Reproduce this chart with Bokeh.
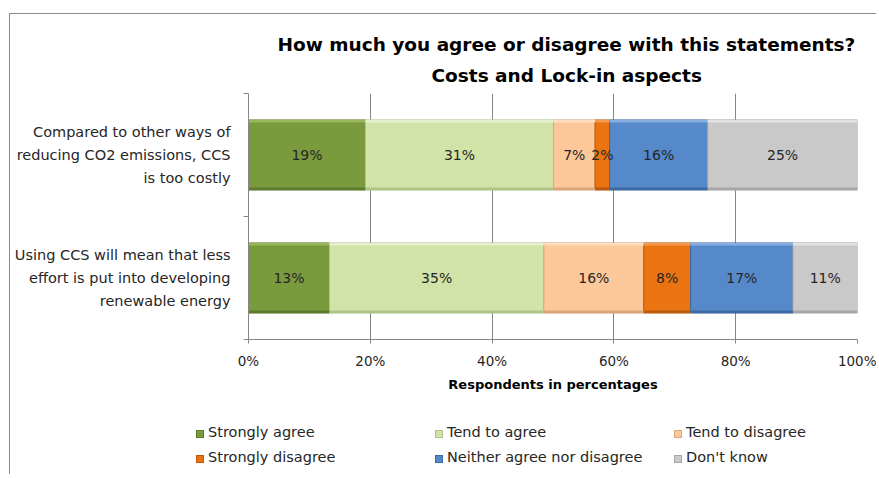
from bokeh.plotting import figure
from bokeh.layouts import column
from bokeh.models import (Range1d, LinearAxis, FixedTicker, PrintfTickFormatter, Div,
                          Title, ColumnDataSource)
from bokeh.core.properties import value
from bokeh.embed import file_html
from bokeh.resources import INLINE

# ---------------- data ----------------
statements = [
    "Compared to other ways of\nreducing CO2 emissions, CCS\nis too costly",
    "Using CCS will mean that less\neffort is put into developing\nrenewable energy",
]
responses = ["Strongly agree", "Tend to agree", "Tend to disagree",
             "Strongly disagree", "Neither agree nor disagree", "Don't know"]
strongly_agree = [19.2, 13.3]
tend_to_agree = [30.9, 35.2]
tend_to_disagree = [6.8, 16.4]
strongly_disagree = [2.4, 7.7]
neither_agree_nor_disagree = [16.1, 16.8]
dont_know = [24.6, 10.6]
x_ticks = [0, 20, 40, 60, 80, 100]

series = [strongly_agree, tend_to_agree, tend_to_disagree,
          strongly_disagree, neither_agree_nor_disagree, dont_know]
keys = ["s%d" % i for i in range(len(series))]
fill_colors = ["#7A9A3E", "#D2E3A7", "#FCC899", "#EB7412", "#5589CA", "#C9C9C9"]
edge_colors = ["#5E7A2C", "#AFC489", "#D9A67A", "#B8590C", "#3D6AA3", "#A6A6A6"]
light_colors = ["#98B65C", "#E6F0D0", "#FDDDBF", "#F39A4E", "#86AEE0", "#E2E2E2"]

FONT = "DejaVu Sans"
GRID = "#868686"
BAR_H = 0.57
EDGE_H = 0.02

n = len(statements)
ypos = [n - 0.5 - i for i in range(n)]          # band centres, first statement on top
data = {"y": ypos,
        "y_top": [y + BAR_H / 2 - EDGE_H / 2 for y in ypos],
        "y_bot": [y - BAR_H / 2 + EDGE_H / 2 for y in ypos]}
for k, s in zip(keys, series):
    data[k] = s
source = ColumnDataSource(data)

# ---------------- main chart ----------------
p = figure(width=866, height=380, output_backend="svg", toolbar_location=None,
           y_range=Range1d(0, n), x_range=Range1d(0, 100), y_axis_location=None,
           min_border_left=238, min_border_right=19, min_border_top=79,
           min_border_bottom=50)
p.outline_line_color = None
p.background_fill_color = "white"

p.hbar_stack(keys, y="y", height=BAR_H, source=source,
             fill_color=fill_colors, line_color=edge_colors, line_width=1)
# bevel: light top edge and darker bottom edge
p.hbar_stack(keys, y="y_top", height=EDGE_H, source=source,
             fill_color=light_colors, line_color=None)
p.hbar_stack(keys, y="y_bot", height=EDGE_H, source=source,
             fill_color=edge_colors, line_color=None)

# data labels
lx, ly, lt = [], [], []
for i, yc in enumerate(ypos):
    left = 0.0
    for s in series:
        v = s[i]
        lx.append(left + v / 2)
        ly.append(yc)
        lt.append("%.0f%%" % v)
        left += v
p.text(x=lx, y=ly, text=lt, text_align="center", text_baseline="middle",
       text_font=value(FONT), text_font_size="14px", text_color="#262626")

# x axis
p.xaxis.ticker = FixedTicker(ticks=x_ticks)
p.xaxis.formatter = PrintfTickFormatter(format="%d%%")
p.xaxis.major_tick_out = 4
p.xaxis.major_tick_in = 0
p.xaxis.minor_tick_out = 0
p.xaxis.minor_tick_in = 0
p.xaxis.axis_line_color = GRID
p.xaxis.major_tick_line_color = GRID
p.xaxis.major_label_text_font = FONT
p.xaxis.major_label_text_font_size = "13.5px"
p.xaxis.major_label_text_color = "#262626"
p.xaxis.major_label_standoff = 9
p.xaxis.axis_label = "Respondents in percentages"
p.xaxis.axis_label_text_font = FONT
p.xaxis.axis_label_text_font_size = "13px"
p.xaxis.axis_label_text_font_style = "bold"
p.xaxis.axis_label_text_color = "black"
p.xaxis.axis_label_standoff = 5

p.xgrid.ticker = FixedTicker(ticks=x_ticks)
p.xgrid.grid_line_color = GRID
p.ygrid.grid_line_color = None

# y axes: one for the band-boundary ticks, one for the statement labels
edges = list(range(n + 1))
tick_axis = LinearAxis(ticker=FixedTicker(ticks=edges),
                       major_label_overrides={e: "" for e in edges})
tick_axis.major_label_text_font_size = "0px"
tick_axis.major_label_standoff = 0
tick_axis.major_tick_out = 5
tick_axis.major_tick_in = 0
tick_axis.minor_tick_out = 0
tick_axis.minor_tick_in = 0
tick_axis.axis_line_color = GRID
tick_axis.major_tick_line_color = GRID
p.add_layout(tick_axis, "left")

cat_axis = LinearAxis(ticker=FixedTicker(ticks=ypos),
                      major_label_overrides={yc: st for yc, st in zip(ypos, statements)})
cat_axis.major_tick_out = 0
cat_axis.major_tick_in = 0
cat_axis.minor_tick_out = 0
cat_axis.minor_tick_in = 0
cat_axis.axis_line_color = None
cat_axis.major_label_text_font = FONT
cat_axis.major_label_text_font_size = "14.5px"
cat_axis.major_label_text_color = "#262626"
cat_axis.major_label_text_line_height = 1.45
cat_axis.major_label_standoff = 13
p.add_layout(cat_axis, "left")

# title (two lines; first added sits closest to the plot)
sub = Title(text="Costs and Lock-in aspects", align="left", text_font=FONT,
            text_font_size="18.5px", text_font_style="bold", text_color="black",
            offset=183, standoff=15)
main = Title(text="How much you agree or disagree with this statements?", align="left",
             text_font=FONT, text_font_size="18.5px", text_font_style="bold",
             text_color="black", offset=29, standoff=2)
p.add_layout(sub, "above")
p.add_layout(main, "above")

# ---------------- legend strip (HTML) ----------------
items_html = ""
for i, (label, fc, ec) in enumerate(zip(responses, fill_colors, edge_colors)):
    items_html += (
        '<div style="position:absolute;left:%dpx;top:%dpx;height:16px;line-height:16px;'
        'white-space:nowrap;">'
        '<span style="display:inline-block;width:8px;height:8px;background:%s;'
        'border:1px solid %s;margin-right:4px;vertical-align:-1px;"></span>%s</div>'
        % (186 + (i % 3) * 239, 30 + (i // 3) * 25, fc, ec, label.replace("'", "&#39;"))
    )
legend_div = Div(
    text='<div style="position:relative;width:866px;height:80px;font-family:\'DejaVu Sans\';'
         'font-size:14.5px;color:#262626;">' + items_html + '</div>',
    width=866, height=80, margin=0)

layout = column(p, legend_div, spacing=0)
layout.margin = (13, 0, 0, 9)
layout.styles = {"border-left": "1px solid #8C8C8C", "border-top": "1px solid #8C8C8C"}

open("out.html", "w").write(file_html(layout, INLINE))
